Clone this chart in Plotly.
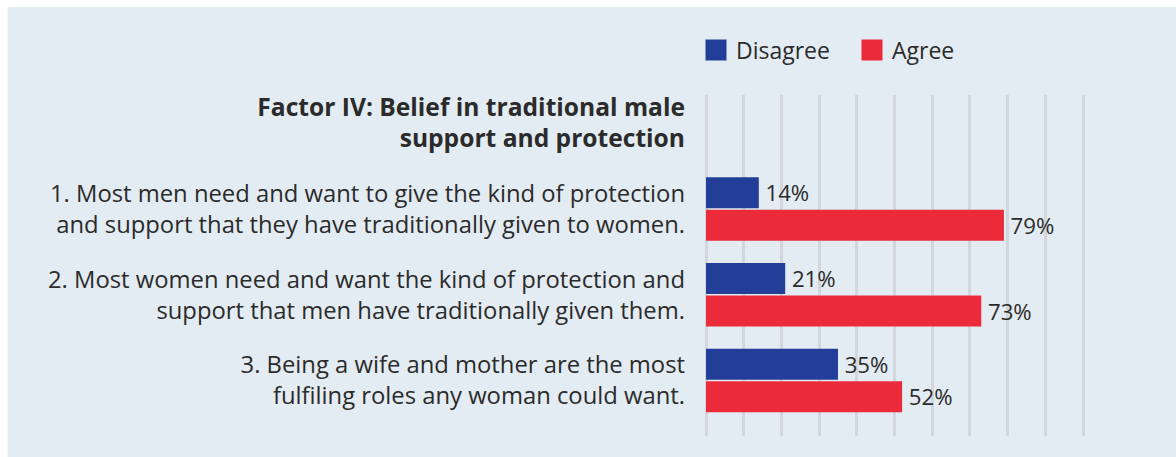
import plotly.graph_objects as go

# Survey items (header row carries no bars)
header = ("<span style='font-size:24.6px'><b>Factor IV: Belief in traditional male"
          "<br>support and protection</b></span>")
questions = [
    "1. Most men need and want to give the kind of protection<br>and support that they have traditionally given to women.",
    "2. Most women need and want the kind of protection and<br>support that men have traditionally given them.",
    "3. Being a wife and mother are the most<br>fulfiling roles any woman could want.",
]
disagree = [14, 21, 35]
agree = [79, 73, 52]
series_names = ["Disagree", "Agree"]

BLUE = "#233E98"
RED = "#EC2B3A"
PANEL = "#E3ECF2"
GRID = "#D3D6DA"
TEXT = "#2B2B2B"
FONT = "Open Sans"

categories = [header] + questions

# plot area geometry (px)
L, T, B = 706, 95, 21
X_MAX = 100.5
PLOT_W = 377 * X_MAX / 100
R = 1176 - L - PLOT_W
PLOT_H = 457 - T - B

fig = go.Figure()
for name, vals, col in [(series_names[0], disagree, BLUE), (series_names[1], agree, RED)]:
    fig.add_trace(go.Bar(
        y=categories,
        x=[None] + vals,
        orientation="h",
        name=name,
        marker=dict(color=col, line=dict(width=0)),
        text=[""] + [f"\u2009{v}%" for v in vals],
        textposition="outside",
        textfont=dict(family=FONT, size=23, color=TEXT),
        cliponaxis=False,
        showlegend=False,
    ))

# Legend keys (larger squares than the default bar swatch)
for name, col in [(series_names[0], BLUE), (series_names[1], RED)]:
    fig.add_trace(go.Scatter(
        x=[None], y=[None], mode="markers", name=name,
        marker=dict(symbol="square", size=16, color=col, line=dict(color=col, width=5)),
        showlegend=True,
    ))

# Light panel behind the chart
fig.add_shape(type="rect", xref="paper", yref="paper",
              x0=(8 - L) / PLOT_W, x1=(1176 - L) / PLOT_W,
              y0=-0.1, y1=(457 - B - 7) / PLOT_H,
              fillcolor=PANEL, line=dict(width=0), layer="below")

fig.update_layout(
    width=1176, height=457, autosize=False,
    margin=dict(l=L, r=R, t=T, b=B, autoexpand=False),
    paper_bgcolor="white",
    plot_bgcolor="rgba(0,0,0,0)",
    barmode="group",
    bargap=0.242,
    bargroupgap=0.05,
    font=dict(family=FONT, size=24, color=TEXT),
    uniformtext=dict(mode=False),
    legend=dict(
        orientation="h",
        x=(696 - L) / PLOT_W, xanchor="left",
        y=(457 - B - 50) / PLOT_H, yanchor="middle",
        font=dict(family=FONT, size=23, color=TEXT),
        bgcolor="rgba(0,0,0,0)",
        itemsizing="trace",
        traceorder="normal",
        entrywidth=111,
    ),
    xaxis=dict(
        range=[0, X_MAX], dtick=10, showticklabels=False,
        showgrid=True, gridcolor=GRID, gridwidth=3,
        zeroline=True, zerolinecolor=GRID, zerolinewidth=3,
        showline=False, fixedrange=True, automargin=False,
    ),
    yaxis=dict(
        type="category",
        categoryorder="array", categoryarray=categories,
        range=[3.647, -0.329],
        showgrid=False, zeroline=False, showline=False,
        ticks="", ticklabelstandoff=20, automargin=False,
        tickfont=dict(family=FONT, size=23.8, color=TEXT),
    ),
)

fig.write_html("out.html")
